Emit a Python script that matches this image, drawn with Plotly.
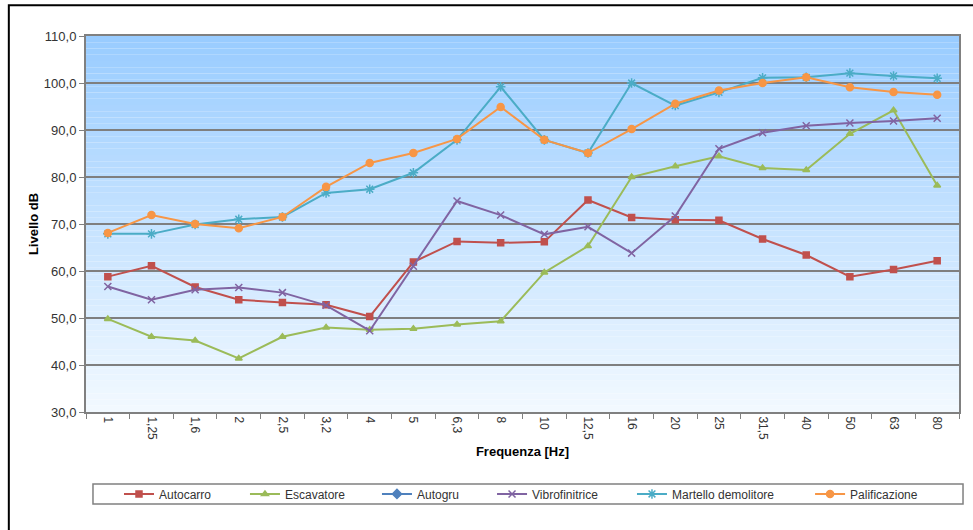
import plotly.graph_objects as go

# frequency bands (third octave) as shown on the x axis
frequenze = ["1", "1,25", "1,6", "2", "2,5", "3,2", "4", "5", "6,3", "8",
             "10", "12,5", "16", "20", "25", "31,5", "40", "50", "63", "80"]

autocarro = [58.8, 61.1, 56.6, 53.9, 53.3, 52.8, 50.3, 61.9, 66.3, 66.0,
             66.2, 75.1, 71.4, 70.9, 70.8, 66.8, 63.4, 58.8, 60.3, 62.2]
escavatore = [49.8, 46.0, 45.2, 41.4, 46.0, 48.0, 47.5, 47.7, 48.6, 49.3,
              59.7, 65.3, 80.0, 82.3, 84.4, 81.9, 81.5, 89.2, 94.2, 78.2]
autogru = [None] * 20  # serie presente solo in legenda
vibrofinitrice = [56.7, 53.9, 56.0, 56.5, 55.4, 52.7, 47.3, 61.0, 74.9, 71.9,
                  67.8, 69.4, 63.8, 71.7, 86.0, 89.4, 90.9, 91.5, 91.9, 92.5]
martello = [67.9, 67.9, 69.9, 71.0, 71.5, 76.6, 77.4, 80.9, 87.9, 99.2,
            87.9, 85.1, 100.0, 95.2, 98.0, 101.1, 101.2, 102.1, 101.5, 101.0]
palificazione = [68.1, 71.9, 70.0, 69.1, 71.5, 77.9, 83.0, 85.1, 88.1, 94.9,
                 87.9, 85.1, 90.2, 95.6, 98.4, 100.0, 101.2, 99.1, 98.1, 97.5]

# name, values, colour, marker, marker size, legend x position
series = [
    ("Autocarro", autocarro, "#C0504D", "square", 6, 0.0378),
    ("Escavatore", escavatore, "#9BBB59", "triangle-up", 6, 0.1821),
    ("Autogru", autogru, "#4F81BD", "diamond", 7, 0.3333),
    ("Vibrofinitrice", vibrofinitrice, "#8064A2", "x-thin-open", 7, 0.4651),
    ("Martello demolitore", martello, "#4BACC6", "asterisk-open", 8, 0.6254),
    ("Palificazione", palificazione, "#F79646", "circle", 7, 0.8294),
]

fig = go.Figure()
legends = {}
for i, (name, vals, col, sym, size, lx) in enumerate(series):
    leg = "legend" if i == 0 else "legend%d" % (i + 1)
    fig.add_trace(go.Scatter(
        x=frequenze, y=vals, name=name, mode="lines+markers", legend=leg,
        line=dict(color=col, width=2),
        marker=dict(color=col, symbol=sym, size=size, line=dict(color=col, width=1.5)),
    ))
    legends[leg] = dict(x=lx, xanchor="left", y=-0.218, yanchor="middle",
                        orientation="h", bgcolor="rgba(0,0,0,0)",
                        font=dict(size=12, color="#333333"))

# gradient background of the plot area (light blue to almost white)
shapes = []
n = 60
top = (153, 204, 255)
bot = (242, 249, 255)
for i in range(n):
    t = i / (n - 1)
    c = tuple(int(round(top[k] + (bot[k] - top[k]) * t)) for k in range(3))
    shapes.append(dict(type="rect", xref="x domain", yref="y domain",
                       x0=0, x1=1, y0=1 - (i + 1) / n, y1=1 - i / n,
                       fillcolor="rgb(%d,%d,%d)" % c, line=dict(width=0), layer="below"))
# outer chart border (right and bottom edges fall outside the picture)
shapes.append(dict(type="rect", xref="paper", yref="paper",
                   x0=-0.0884, x1=1.04, y0=-0.35, y1=1.082,
                   line=dict(color="black", width=2)))
# legend box
shapes.append(dict(type="rect", xref="paper", yref="paper",
                   x0=0.008, x1=1.0046, y0=-0.2447, y1=-0.1915,
                   line=dict(color="#808080", width=1.5)))

fig.update_layout(
    width=973, height=530,
    margin=dict(l=86, r=14, t=36, b=118),
    paper_bgcolor="white", plot_bgcolor="rgba(0,0,0,0)",
    separators=",.",
    font=dict(family="Liberation Sans, Arial, sans-serif", size=12, color="#333333"),
    shapes=shapes,
    showlegend=True,
    **legends,
)

fig.update_xaxes(
    type="category", range=[-0.5, 19.5], tickangle=90, tickson="boundaries",
    ticks="outside", ticklen=5, tickcolor="#808080", showline=True,
    linecolor="#808080", linewidth=2, mirror=True, showgrid=False,
    title=dict(text="<b>Frequenza [Hz]</b>", font=dict(size=13, color="black"), standoff=8),
    tickfont=dict(size=12, color="#333333"),
)
fig.update_yaxes(
    range=[30, 110], dtick=10, tickformat=".1f", ticks="outside", ticklen=5,
    tickcolor="#808080", showline=True, linecolor="#808080", linewidth=2, mirror=True,
    showgrid=True, gridcolor="#7f7f7f", gridwidth=2, zeroline=False,
    title=dict(text="<b>Livello dB</b>", font=dict(size=13, color="black"), standoff=2),
    tickfont=dict(size=13, color="#333333"),
)

fig.write_html("out.html", config={"displayModeBar": False},
               post_script="document.body.style.margin='0px';")
